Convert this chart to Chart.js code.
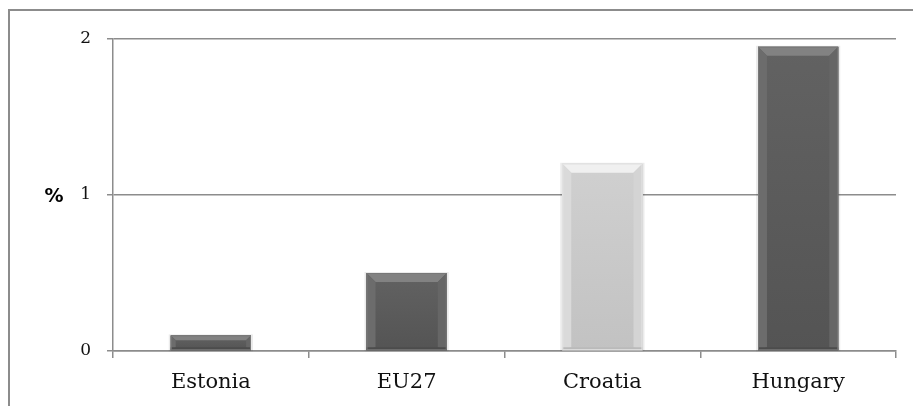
<!DOCTYPE html>
<html>
<head>
<meta charset="utf-8">
<script src="https://cdn.jsdelivr.net/npm/chart.js@4"></script>
<style>
html,body{margin:0;padding:0;background:#fff;}
#wrap{width:913px;height:406px;position:relative;}
</style>
</head>
<body>
<div id="wrap"><canvas id="c" width="913" height="406"></canvas></div>
<script>
const categories = ["Estonia", "EU27", "Croatia", "Hungary"];
const values = [0.1, 0.5, 1.2, 1.95];
const barColors = ["#5a5a5a", "#5a5a5a", "#c8c8c8", "#5a5a5a"];
const yTicks = [0, 1, 2];
const yUnit = "%";

function shade(hex, amt) {
  const n = parseInt(hex.slice(1), 16);
  let r = (n >> 16) & 255, g = (n >> 8) & 255, b = n & 255;
  r = Math.max(0, Math.min(255, r + amt));
  g = Math.max(0, Math.min(255, g + amt));
  b = Math.max(0, Math.min(255, b + amt));
  return "rgb(" + r + "," + g + "," + b + ")";
}

const framePlugin = {
  id: "frame",
  beforeDraw(chart) {
    const ctx = chart.ctx;
    ctx.save();
    ctx.strokeStyle = "#8c8c8c";
    ctx.lineWidth = 2;
    ctx.beginPath();
    ctx.moveTo(9, chart.height);
    ctx.lineTo(9, 10);
    ctx.lineTo(chart.width, 10);
    ctx.stroke();
    ctx.restore();
  },
  afterDraw(chart) {
    const ctx = chart.ctx;
    const ys = chart.scales.y;
    ctx.save();
    ctx.fillStyle = "#000";
    ctx.font = "bold 19px 'DejaVu Sans', sans-serif";
    ctx.textAlign = "center";
    ctx.textBaseline = "middle";
    ctx.fillText(yUnit, 54, ys.getPixelForValue(1) + 2);
    ctx.restore();
  }
};

const bevelPlugin = {
  id: "bevel",
  afterDatasetsDraw(chart) {
    const ctx = chart.ctx;
    const meta = chart.getDatasetMeta(0);
    meta.data.forEach((bar, i) => {
      const p = bar.getProps(["x", "y", "base", "width"], true);
      const l = p.x - p.width / 2, r = p.x + p.width / 2, t = p.y, b = p.base;
      const h = b - t;
      const bv = Math.min(9, h / 3);
      const base = barColors[i];
      ctx.save();
      ctx.fillStyle = "rgba(0,0,0,0.08)";
      ctx.fillRect(l - 2, t - 1, p.width + 4, h + 2);
      const g = ctx.createLinearGradient(0, t, 0, b);
      g.addColorStop(0, shade(base, 8));
      g.addColorStop(1, shade(base, -6));
      ctx.fillStyle = g;
      ctx.fillRect(l, t, p.width, h);
      ctx.fillStyle = shade(base, 40);
      ctx.beginPath();
      ctx.moveTo(l, t); ctx.lineTo(r, t); ctx.lineTo(r - bv, t + bv); ctx.lineTo(l + bv, t + bv); ctx.closePath();
      ctx.fill();
      ctx.fillStyle = shade(base, 18);
      ctx.beginPath();
      ctx.moveTo(l, t); ctx.lineTo(l + bv, t + bv); ctx.lineTo(l + bv, b - Math.min(3, bv)); ctx.lineTo(l, b); ctx.closePath();
      ctx.fill();
      ctx.fillStyle = shade(base, 12);
      ctx.beginPath();
      ctx.moveTo(r, t); ctx.lineTo(r - bv, t + bv); ctx.lineTo(r - bv, b - Math.min(3, bv)); ctx.lineTo(r, b); ctx.closePath();
      ctx.fill();
      ctx.fillStyle = shade(base, -14);
      ctx.fillRect(l, b - Math.min(3, bv), p.width, Math.min(3, bv));
      ctx.strokeStyle = shade(base, 30);
      ctx.lineWidth = 1;
      ctx.strokeRect(l + 0.5, t + 0.5, p.width - 1, h - 1);
      ctx.restore();
    });
  }
};

new Chart(document.getElementById("c"), {
  type: "bar",
  data: {
    labels: categories,
    datasets: [{
      data: values,
      backgroundColor: barColors,
      borderWidth: 0,
      barPercentage: 0.41,
      categoryPercentage: 1.0
    }]
  },
  options: {
    responsive: false,
    animation: false,
    devicePixelRatio: 1,
    layout: { padding: { top: 39, right: 17, left: 0, bottom: 0 } },
    plugins: { legend: { display: false }, tooltip: { enabled: false }, title: { display: false } },
    scales: {
      x: {
        afterFit(s) { s.height = 55; },
        grid: { offset: true, drawOnChartArea: false, color: "#8c8c8c", lineWidth: 1.5, tickLength: 7 },
        border: { color: "#8c8c8c", width: 1.5 },
        ticks: { color: "#111", font: { family: "'DejaVu Serif', serif", size: 21 }, padding: 12 }
      },
      y: {
        min: 0, max: 2,
        afterFit(s) { s.width = 113; },
        afterBuildTicks(s) { s.ticks = yTicks.map(v => ({ value: v })); },
        grid: { color: "#8c8c8c", lineWidth: 1.5, tickLength: 6 },
        border: { color: "#8c8c8c", width: 1.5 },
        ticks: { color: "#111", font: { family: "'DejaVu Serif', serif", size: 17 }, padding: 16 }
      }
    }
  },
  plugins: [framePlugin, bevelPlugin]
});
</script>
</body>
</html>
